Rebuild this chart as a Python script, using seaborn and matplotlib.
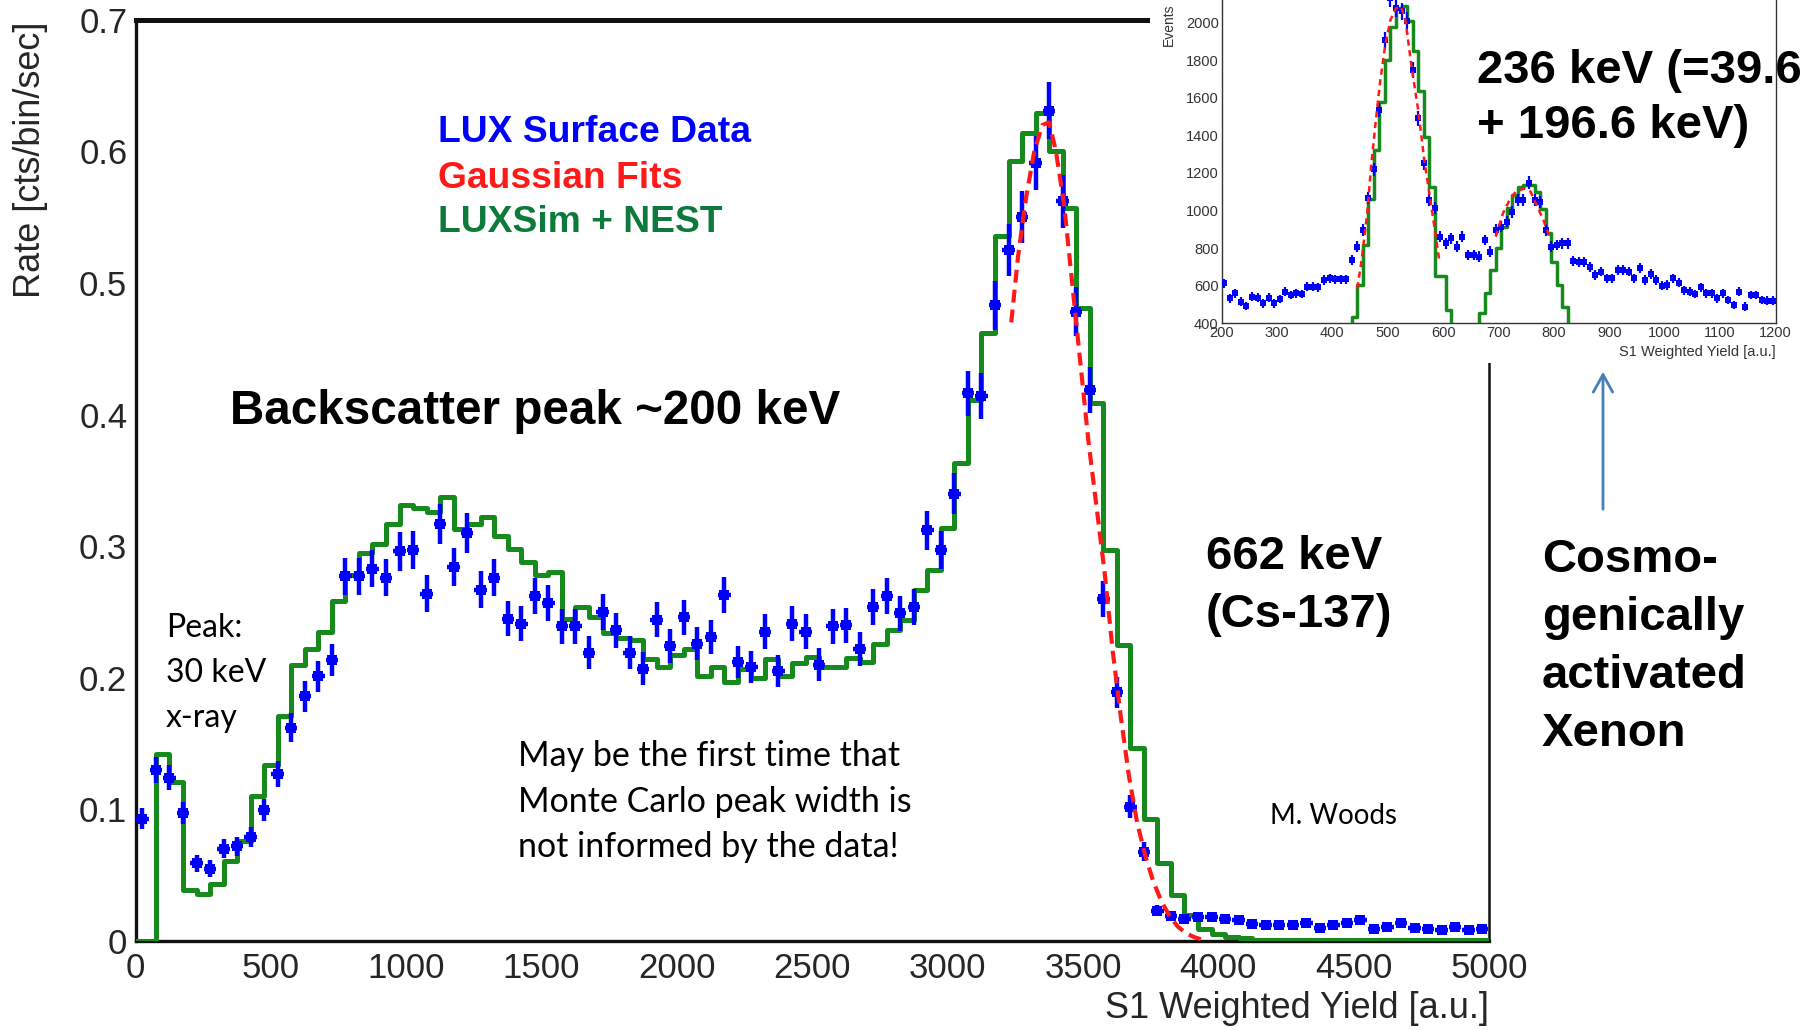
import numpy as np
import pandas as pd
import matplotlib
matplotlib.use("Agg")
import matplotlib.pyplot as plt
import seaborn as sns
from matplotlib.patches import Rectangle, FancyArrowPatch
from matplotlib.ticker import FixedLocator, FuncFormatter, MultipleLocator

W, H, DPI = 1817, 1030, 100

# ---------------- main spectrum (rate per 50-unit bin) ----------------
data_centers = np.arange(25, 5000, 50)
data_rate = [
    0.093, 0.130, 0.124, 0.097, 0.059, 0.055, 0.070, 0.072, 0.079, 0.0995,
    0.127, 0.162, 0.186, 0.201, 0.2135, 0.277, 0.277, 0.283, 0.276, 0.296,
    0.297, 0.264, 0.317, 0.284, 0.310, 0.267, 0.276, 0.245, 0.241, 0.262,
    0.257, 0.239, 0.239, 0.219, 0.250, 0.236, 0.219, 0.207, 0.244, 0.224,
    0.246, 0.226, 0.231, 0.263, 0.212, 0.208, 0.235, 0.205, 0.241, 0.235,
    0.210, 0.239, 0.240, 0.222, 0.254, 0.262, 0.249, 0.254, 0.312, 0.297,
    0.340, 0.416, 0.414, 0.483, 0.525, 0.550, 0.591, 0.631, 0.562, 0.478,
    0.419, 0.260, 0.189, 0.102, 0.068, 0.023, 0.019, 0.017, 0.018, 0.018,
    0.017, 0.016, 0.013, 0.012, 0.012, 0.012, 0.014, 0.010, 0.012, 0.014,
    0.016, 0.009, 0.011, 0.014, 0.010, 0.009, 0.008, 0.011, 0.008, 0.009,
]

# LUXSim + NEST prediction, bins centred on multiples of 50
sim_centers = np.arange(0, 5001, 50)
sim_rate = [
    0.0, 0.0, 0.142, 0.121, 0.039, 0.036, 0.043, 0.061, 0.076, 0.110,
    0.134, 0.171, 0.210, 0.222, 0.235, 0.258, 0.278, 0.295, 0.302, 0.317,
    0.331, 0.329, 0.326, 0.337, 0.313, 0.317, 0.322, 0.308, 0.298, 0.288,
    0.278, 0.280, 0.245, 0.254, 0.246, 0.234, 0.230, 0.229, 0.214, 0.208,
    0.217, 0.222, 0.201, 0.208, 0.197, 0.207, 0.200, 0.214, 0.201, 0.211,
    0.216, 0.208, 0.208, 0.215, 0.212, 0.226, 0.236, 0.244, 0.267, 0.282,
    0.314, 0.363, 0.411, 0.462, 0.536, 0.593, 0.614, 0.629, 0.600, 0.557,
    0.481, 0.409, 0.297, 0.225, 0.147, 0.093, 0.059, 0.035, 0.020, 0.009,
    0.005, 0.003, 0.002, 0.001, 0.001, 0.001, 0.001, 0.001, 0.001, 0.001,
    0.001, 0.001, 0.001, 0.001, 0.001, 0.001, 0.001, 0.001, 0.001, 0.001,
    0.001,
]

# Gaussian fit to the 662 keV peak
fit_x = [3235, 3260, 3290, 3320, 3350, 3375, 3400, 3430, 3460, 3490, 3520, 3550,
         3580, 3610, 3640, 3670, 3700, 3730, 3760, 3790, 3820, 3850, 3880, 3910, 3940]
fit_rate = [0.470, 0.520, 0.565, 0.600, 0.620, 0.622, 0.600, 0.560, 0.500, 0.440,
            0.380, 0.330, 0.280, 0.220, 0.170, 0.125, 0.090, 0.065, 0.045, 0.030,
            0.019, 0.011, 0.006, 0.003, 0.001]

# ---------------- inset: 236 keV region (events per 10-unit bin) ----------------
inset_centers = np.arange(205, 1200, 10)
inset_events = [
    613, 533, 560, 515, 492, 542, 537, 506, 537, 506,
    529, 568, 551, 560, 556, 595, 595, 592, 631, 639,
    634, 634, 634, 737, 808, 897, 1065, 1220, 1535, 1908,
    2130, 2075, 2060, 2010, 1748, 1491, 1251, 1056, 1012, 861,
    826, 852, 808, 861, 764, 764, 755, 843, 781, 897,
    914, 941, 994, 1056, 1056, 1149, 1056, 1044, 897, 808,
    817, 826, 826, 733, 728, 728, 702, 657, 675, 639,
    639, 684, 684, 675, 639, 693, 631, 663, 631, 599,
    604, 639, 616, 577, 568, 556, 592, 560, 560, 533,
    560, 524, 498, 568, 489, 551, 551, 524, 521, 521,
]
inset_sim_centers = np.arange(430, 831, 10)
inset_sim_events = [
    0, 435, 604, 817, 1060, 1322, 1576, 1801, 1975, 2076,
    2089, 2010, 1851, 1638, 1390, 1127, 652, 652, 471, 0,
    0, 0, 0, 0, 453, 560, 684, 799, 914, 1012,
    1083, 1127, 1136, 1136, 1100, 1007, 879, 728, 604, 489,
    0,
]
inset_fit1_x = [445, 453, 463, 470, 478, 486, 496, 505, 515, 524, 532, 543, 555, 566, 576, 586, 593]
inset_fit1_y = [586, 737, 985, 1234, 1464, 1677, 1890, 2014, 2076, 2085, 2014, 1766, 1535, 1269, 1074, 879, 737]
inset_fit2_x = [695, 708, 720, 731, 747, 758, 770, 781, 793]
inset_fit2_y = [861, 985, 1056, 1100, 1118, 1100, 1021, 950, 852]

BLUE = "#0000ff"
RED = "#ff1a1a"
GREEN = "#168a1c"
TEXT_GREEN = "#0b7a3a"
TICK_GREY = "#262626"

sns.set_style("white")
SANS = ["Liberation Sans", "DejaVu Sans"]
HUMAN = ["Lato", "DejaVu Sans"]
plt.rcParams["font.family"] = SANS

fig = plt.figure(figsize=(W / DPI, H / DPI), dpi=DPI)
fig.patch.set_facecolor("white")


def px_rect(x0, y_top, x1, y_bottom):
    """Axes rectangle from pixel edges (y measured from the top)."""
    return [x0 / W, 1 - y_bottom / H, (x1 - x0) / W, (y_bottom - y_top) / H]


# ---------------- main axes ----------------
ax = fig.add_axes(px_rect(135.6, 19.7, 1489, 941))
ax.set_facecolor("white")

sim_df = pd.DataFrame({"x": sim_centers, "rate": sim_rate})
sns.lineplot(data=sim_df, x="x", y="rate", ax=ax, color=GREEN, lw=3.6,
             drawstyle="steps-mid", estimator=None, errorbar=None, legend=False, zorder=3)

fit_df = pd.DataFrame({"x": fit_x, "rate": fit_rate})
sns.lineplot(data=fit_df, x="x", y="rate", ax=ax, color=RED, lw=3.0,
             linestyle=(0, (3.1, 1.7)), estimator=None, errorbar=None, legend=False, zorder=5)

rate = np.asarray(data_rate)
rate_err = 0.027 * np.sqrt(rate)  # counting-statistics uncertainty per bin
ax.errorbar(data_centers, rate, xerr=23, yerr=rate_err, fmt="s", ms=7.6, mew=0,
            color=BLUE, ecolor=BLUE, elinewidth=3.2, capsize=0, zorder=4)

ax.set_xlim(0, 5000)
ax.set_ylim(0, 0.7)
ax.set_xlabel("")
ax.set_ylabel("")
ax.xaxis.set_major_locator(MultipleLocator(500))
ax.xaxis.set_minor_locator(MultipleLocator(100))
ax.yaxis.set_major_locator(FixedLocator(np.round(np.arange(0, 0.71, 0.1), 2)))
ax.yaxis.set_minor_locator(FixedLocator([v for v in np.round(np.arange(0, 0.701, 0.02), 2)
                                         if abs(v * 10 - round(v * 10)) > 1e-6]))
ax.yaxis.set_major_formatter(FuncFormatter(lambda v, _: "0" if abs(v) < 1e-9 else f"{v:.1f}"))
ax.xaxis.set_major_formatter(FuncFormatter(lambda v, _: f"{v:.0f}"))
ax.tick_params(axis="y", which="major", direction="in", length=30, width=2.2,
               color="#222222", labelsize=25, labelcolor=TICK_GREY, pad=6)
ax.tick_params(axis="y", which="minor", direction="in", length=14.5, width=2.0, color="#222222")
ax.tick_params(axis="x", which="major", direction="in", length=19.5, width=2.0,
               color="#333333", labelsize=25, labelcolor=TICK_GREY, pad=8)
ax.tick_params(axis="x", which="minor", direction="in", length=11, width=1.8, color="#333333")
ax.tick_params(top=False, right=False)
for side, lw in (("left", 2.4), ("bottom", 2.4), ("top", 3.6), ("right", 1.8)):
    ax.spines[side].set_visible(True)
    ax.spines[side].set_linewidth(lw)
    ax.spines[side].set_color("#111111")

fig.text(30 / W, 1 - 21 / H, "Rate [cts/bin/sec]", rotation=90, ha="center", va="top",
         fontsize=26, color=TICK_GREY)
fig.text(1489 / W, 1 - 1008 / H, "S1 Weighted Yield [a.u.]", ha="right", va="center",
         fontsize=26, color=TICK_GREY)

# white backdrop for the inset panel
fig.add_artist(Rectangle((1150 / W, 1 - 363 / H), 1 - 1150 / W, 363 / H,
                         transform=fig.transFigure, facecolor="white", edgecolor="none", zorder=1))

# ---------------- inset axes ----------------
ins = fig.add_axes(px_rect(1221.5, -15, 1775.5, 323.3))
ins.set_zorder(2)
ins.set_facecolor("white")

ins_sim_df = pd.DataFrame({"x": inset_sim_centers, "ev": inset_sim_events})
sns.lineplot(data=ins_sim_df, x="x", y="ev", ax=ins, color=GREEN, lw=2.5,
             drawstyle="steps-mid", estimator=None, errorbar=None, legend=False, zorder=3)
for fx, fy in ((inset_fit1_x, inset_fit1_y), (inset_fit2_x, inset_fit2_y)):
    sns.lineplot(x=fx, y=fy, ax=ins, color=RED, lw=1.8, linestyle=(0, (2.5, 1.8)),
                 estimator=None, errorbar=None, legend=False, zorder=5)
ev = np.asarray(inset_events, dtype=float)
ins.errorbar(inset_centers, ev, xerr=3, yerr=np.sqrt(ev), fmt="s", ms=4.8, mew=0,
             color=BLUE, ecolor=BLUE, elinewidth=1.6, capsize=0, zorder=4)

ins.set_xlim(200, 1200)
ins.set_ylim(400, 2200)
ins.set_xlabel("")
ins.set_ylabel("")
ins.xaxis.set_major_locator(MultipleLocator(100))
ins.xaxis.set_minor_locator(MultipleLocator(20))
ins.yaxis.set_major_locator(MultipleLocator(200))
ins.yaxis.set_minor_locator(MultipleLocator(40))
ins.tick_params(which="major", direction="in", length=6.5, width=0.9, color="#444444",
                labelsize=10.5, labelcolor="#333333", pad=2)
ins.tick_params(which="minor", direction="in", length=3.5, width=0.8, color="#444444")
ins.tick_params(top=False, right=False)
for side in ("left", "bottom", "right", "top"):
    ins.spines[side].set_visible(True)
    ins.spines[side].set_linewidth(1.0)
    ins.spines[side].set_color("#333333")

fig.text(1169 / W, 1 - 3 / H, "Events", rotation=90, ha="center", va="top",
         fontsize=10, color="#333333")
fig.text(1775.5 / W, 1 - 352 / H, "S1 Weighted Yield [a.u.]", ha="right", va="center",
         fontsize=10.5, color="#333333")

# arrow pointing at the inset
fig.add_artist(FancyArrowPatch((1603 / W, 1 - 512 / H), (1603 / W, 1 - 369 / H),
                               transform=fig.transFigure, arrowstyle="->,head_length=0.45,head_width=0.25",
                               mutation_scale=28, color="#4a7ebb", lw=2.0, zorder=4))


# ---------------- annotations ----------------
def put(lines, x, y0, step, size, color="black", weight="normal", family=SANS):
    for i, line in enumerate(lines):
        fig.text(x / W, 1 - (y0 + i * step) / H, line, fontsize=size, color=color,
                 fontweight=weight, family=family, ha="left", va="center", zorder=6)


put(["LUX Surface Data"], 438, 133, 0, 26.8, color=BLUE, weight="bold")
put(["Gaussian Fits"], 438, 178, 0, 26.8, color=RED, weight="bold")
put(["LUXSim + NEST"], 438, 223, 0, 26.8, color=TEXT_GREEN, weight="bold")
put(["Backscatter peak ~200 keV"], 230, 412, 0, 34.3, weight="bold")
put(["662 keV", "(Cs-137)"], 1206, 557, 58, 34, weight="bold")
put(["Cosmo-", "genically", "activated", "Xenon"], 1542, 560, 58, 34, weight="bold")
put(["236 keV (=39.6", "+ 196.6 keV)"], 1477, 71, 55, 34, weight="bold")
put(["Peak:", "30 keV", "x-ray"], 166, 628, 45, 23, family=HUMAN)
put(["May be the first time that", "Monte Carlo peak width is", "not informed by the data!"],
    518, 756, 45.5, 24.5, family=HUMAN)
put(["M. Woods"], 1270, 816, 0, 20, family=HUMAN)

fig.savefig("out.png", dpi=DPI, facecolor="white")
